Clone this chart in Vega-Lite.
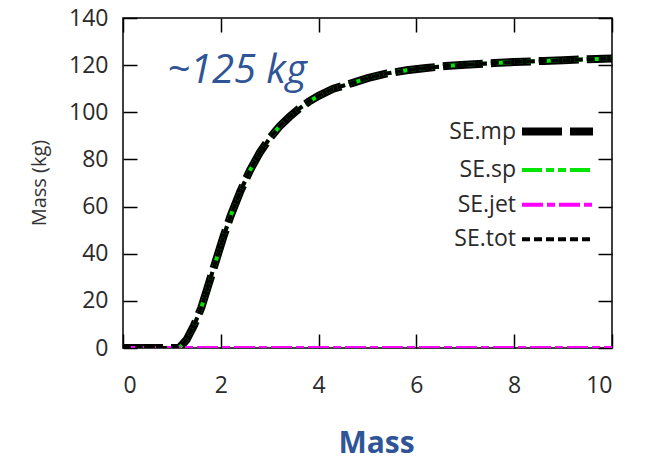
{
  "$schema": "https://vega.github.io/schema/vega-lite/v6.json",
  "width": 489,
  "height": 330,
  "autosize": {"type": "none"},
  "padding": {"left": 123, "top": 18, "right": 39, "bottom": 113},
  "background": "white",
  "config": {
    "font": "Open Sans",
    "view": {"stroke": "#000000", "strokeWidth": 1.5},
    "axis": {
      "grid": false,
      "domain": false,
      "tickColor": "#000000",
      "tickWidth": 1.5,
      "tickSize": -14,
      "labelFont": "Open Sans",
      "labelFontSize": 23,
      "labelColor": "#2a2a2a"
    },
    "legend": {
      "orient": "none",
      "legendX": 423,
      "legendY": 102,
      "padding": 0,
      "symbolType": "stroke",
      "symbolSize": 5041,
      "labelFont": "Open Sans",
      "labelFontSize": 23,
      "labelColor": "#2a2a2a",
      "labelAlign": "right",
      "labelOffset": -53,
      "labelLimit": 0,
      "rowPadding": 10.6
    }
  },
  "data": {
    "values": [
      {"series": "SE.mp", "t": 0, "m": 0}, {"series": "SE.mp", "t": 1.15, "m": 0}, {"series": "SE.mp", "t": 1.3, "m": 3.5},
      {"series": "SE.mp", "t": 1.45, "m": 9.5}, {"series": "SE.mp", "t": 1.6, "m": 17}, {"series": "SE.mp", "t": 1.75, "m": 27},
      {"series": "SE.mp", "t": 1.9, "m": 37}, {"series": "SE.mp", "t": 2.05, "m": 47}, {"series": "SE.mp", "t": 2.2, "m": 56},
      {"series": "SE.mp", "t": 2.4, "m": 66.5}, {"series": "SE.mp", "t": 2.6, "m": 75.5}, {"series": "SE.mp", "t": 2.8, "m": 83},
      {"series": "SE.mp", "t": 3.0, "m": 89}, {"series": "SE.mp", "t": 3.2, "m": 94}, {"series": "SE.mp", "t": 3.4, "m": 98},
      {"series": "SE.mp", "t": 3.6, "m": 101.5}, {"series": "SE.mp", "t": 3.8, "m": 104.5}, {"series": "SE.mp", "t": 4.0, "m": 107},
      {"series": "SE.mp", "t": 4.3, "m": 110}, {"series": "SE.mp", "t": 4.7, "m": 112.5}, {"series": "SE.mp", "t": 5.0, "m": 114.5},
      {"series": "SE.mp", "t": 5.4, "m": 116.5}, {"series": "SE.mp", "t": 5.8, "m": 117.8}, {"series": "SE.mp", "t": 6.2, "m": 118.8},
      {"series": "SE.mp", "t": 6.6, "m": 119.6}, {"series": "SE.mp", "t": 7.0, "m": 120.2}, {"series": "SE.mp", "t": 7.6, "m": 120.9},
      {"series": "SE.mp", "t": 8.0, "m": 121.3}, {"series": "SE.mp", "t": 8.6, "m": 121.8}, {"series": "SE.mp", "t": 9.0, "m": 122.1},
      {"series": "SE.mp", "t": 9.5, "m": 122.5}, {"series": "SE.mp", "t": 10, "m": 122.8},

      {"series": "SE.sp", "t": 0, "m": 0}, {"series": "SE.sp", "t": 1.15, "m": 0}, {"series": "SE.sp", "t": 1.3, "m": 3.5},
      {"series": "SE.sp", "t": 1.45, "m": 9.5}, {"series": "SE.sp", "t": 1.6, "m": 17}, {"series": "SE.sp", "t": 1.75, "m": 27},
      {"series": "SE.sp", "t": 1.9, "m": 37}, {"series": "SE.sp", "t": 2.05, "m": 47}, {"series": "SE.sp", "t": 2.2, "m": 56},
      {"series": "SE.sp", "t": 2.4, "m": 66.5}, {"series": "SE.sp", "t": 2.6, "m": 75.5}, {"series": "SE.sp", "t": 2.8, "m": 83},
      {"series": "SE.sp", "t": 3.0, "m": 89}, {"series": "SE.sp", "t": 3.2, "m": 94}, {"series": "SE.sp", "t": 3.4, "m": 98},
      {"series": "SE.sp", "t": 3.6, "m": 101.5}, {"series": "SE.sp", "t": 3.8, "m": 104.5}, {"series": "SE.sp", "t": 4.0, "m": 107},
      {"series": "SE.sp", "t": 4.3, "m": 110}, {"series": "SE.sp", "t": 4.7, "m": 112.5}, {"series": "SE.sp", "t": 5.0, "m": 114.5},
      {"series": "SE.sp", "t": 5.4, "m": 116.5}, {"series": "SE.sp", "t": 5.8, "m": 117.8}, {"series": "SE.sp", "t": 6.2, "m": 118.8},
      {"series": "SE.sp", "t": 6.6, "m": 119.6}, {"series": "SE.sp", "t": 7.0, "m": 120.2}, {"series": "SE.sp", "t": 7.6, "m": 120.9},
      {"series": "SE.sp", "t": 8.0, "m": 121.3}, {"series": "SE.sp", "t": 8.6, "m": 121.8}, {"series": "SE.sp", "t": 9.0, "m": 122.1},
      {"series": "SE.sp", "t": 9.5, "m": 122.5}, {"series": "SE.sp", "t": 10, "m": 122.8},

      {"series": "SE.jet", "t": 0, "m": 0}, {"series": "SE.jet", "t": 10, "m": 0},

      {"series": "SE.tot", "t": 0, "m": 0}, {"series": "SE.tot", "t": 1.15, "m": 0}, {"series": "SE.tot", "t": 1.3, "m": 3.5},
      {"series": "SE.tot", "t": 1.45, "m": 9.5}, {"series": "SE.tot", "t": 1.6, "m": 17}, {"series": "SE.tot", "t": 1.75, "m": 27},
      {"series": "SE.tot", "t": 1.9, "m": 37}, {"series": "SE.tot", "t": 2.05, "m": 47}, {"series": "SE.tot", "t": 2.2, "m": 56},
      {"series": "SE.tot", "t": 2.4, "m": 66.5}, {"series": "SE.tot", "t": 2.6, "m": 75.5}, {"series": "SE.tot", "t": 2.8, "m": 83},
      {"series": "SE.tot", "t": 3.0, "m": 89}, {"series": "SE.tot", "t": 3.2, "m": 94}, {"series": "SE.tot", "t": 3.4, "m": 98},
      {"series": "SE.tot", "t": 3.6, "m": 101.5}, {"series": "SE.tot", "t": 3.8, "m": 104.5}, {"series": "SE.tot", "t": 4.0, "m": 107},
      {"series": "SE.tot", "t": 4.3, "m": 110}, {"series": "SE.tot", "t": 4.7, "m": 112.5}, {"series": "SE.tot", "t": 5.0, "m": 114.5},
      {"series": "SE.tot", "t": 5.4, "m": 116.5}, {"series": "SE.tot", "t": 5.8, "m": 117.8}, {"series": "SE.tot", "t": 6.2, "m": 118.8},
      {"series": "SE.tot", "t": 6.6, "m": 119.6}, {"series": "SE.tot", "t": 7.0, "m": 120.2}, {"series": "SE.tot", "t": 7.6, "m": 120.9},
      {"series": "SE.tot", "t": 8.0, "m": 121.3}, {"series": "SE.tot", "t": 8.6, "m": 121.8}, {"series": "SE.tot", "t": 9.0, "m": 122.1},
      {"series": "SE.tot", "t": 9.5, "m": 122.5}, {"series": "SE.tot", "t": 10, "m": 122.8}
    ]
  },
  "resolve": {"axis": {"x": "independent", "y": "independent"}},
  "layer": [
    {
      "transform": [{"filter": "datum.series === 'SE.mp'"}],
      "mark": {"type": "line", "strokeWidth": 8, "clip": true},
      "encoding": {
        "x": {
          "field": "t", "type": "quantitative",
          "scale": {"domain": [0, 10], "nice": false},
          "axis": {
            "orient": "bottom", "values": [0, 2, 4, 6, 8, 10], "labelPadding": 40,
            "title": "Mass", "titleFont": "Open Sans", "titleFontSize": 30, "titleFontWeight": "bold",
            "titleColor": "#2F5597", "titleX": 253, "titleY": 104, "titleBaseline": "alphabetic", "titleAlign": "center"
          }
        },
        "y": {
          "field": "m", "type": "quantitative",
          "scale": {"domain": [0, 140], "nice": false},
          "axis": {
            "orient": "left", "values": [0, 20, 40, 60, 80, 100, 120, 140], "labelPadding": 29,
            "title": "Mass (kg)", "titleFont": "Open Sans", "titleFontSize": 20, "titleFontWeight": "normal",
            "titleColor": "#333333", "titleAngle": 270, "titleX": -84, "titleY": 164.5,
            "titleBaseline": "middle", "titleAlign": "center"
          }
        },
        "color": {
          "field": "series", "type": "nominal",
          "scale": {"domain": ["SE.mp", "SE.sp", "SE.jet", "SE.tot"], "range": ["#000000", "#00e600", "#ff00ff", "#000000"]},
          "legend": {
            "title": null,
            "encode": {"symbols": {"update": {"strokeWidth": {"signal": "datum.value === 'SE.mp' ? 8 : 4"}}}}
          }
        },
        "strokeDash": {
          "field": "series", "type": "nominal",
          "scale": {"domain": ["SE.mp", "SE.sp", "SE.jet", "SE.tot"], "range": [[40, 8], [20, 4, 8, 4, 8, 4], [21, 4, 8, 4], [8, 4]]},
          "legend": {"title": null}
        }
      }
    },
    {
      "transform": [{"filter": "datum.series === 'SE.sp'"}],
      "mark": {"type": "line", "strokeWidth": 4, "clip": true},
      "encoding": {
        "x": {"field": "t", "type": "quantitative", "scale": {"domain": [0, 10], "nice": false}, "axis": null},
        "y": {"field": "m", "type": "quantitative", "scale": {"domain": [0, 140], "nice": false}, "axis": null},
        "color": {"field": "series", "type": "nominal", "legend": {"title": null}},
        "strokeDash": {"field": "series", "type": "nominal", "legend": {"title": null}}
      }
    },
    {
      "transform": [{"filter": "datum.series === 'SE.jet'"}],
      "mark": {"type": "line", "strokeWidth": 4, "clip": true},
      "encoding": {
        "x": {
          "field": "t", "type": "quantitative", "scale": {"domain": [0, 10], "nice": false},
          "axis": {"orient": "top", "values": [0, 2, 4, 6, 8, 10], "labels": false, "title": null}
        },
        "y": {
          "field": "m", "type": "quantitative", "scale": {"domain": [0, 140], "nice": false},
          "axis": {"orient": "right", "values": [0, 20, 40, 60, 80, 100, 120, 140], "labels": false, "title": null}
        },
        "color": {"field": "series", "type": "nominal", "legend": {"title": null}},
        "strokeDash": {"field": "series", "type": "nominal", "legend": {"title": null}}
      }
    },
    {
      "transform": [{"filter": "datum.series === 'SE.tot'"}],
      "mark": {"type": "line", "strokeWidth": 4, "clip": true},
      "encoding": {
        "x": {"field": "t", "type": "quantitative", "scale": {"domain": [0, 10], "nice": false}, "axis": null},
        "y": {"field": "m", "type": "quantitative", "scale": {"domain": [0, 140], "nice": false}, "axis": null},
        "color": {"field": "series", "type": "nominal", "legend": {"title": null}},
        "strokeDash": {"field": "series", "type": "nominal", "legend": {"title": null}}
      }
    },
    {
      "data": {"values": [{"note": "~125 kg"}]},
      "mark": {
        "type": "text", "font": "Open Sans", "fontSize": 40, "fontStyle": "italic",
        "fontWeight": "normal", "fill": "#2F5597", "align": "left", "baseline": "alphabetic"
      },
      "encoding": {
        "text": {"field": "note"},
        "x": {"datum": 0.9, "type": "quantitative", "axis": null},
        "y": {"datum": 112.6, "type": "quantitative", "axis": null}
      }
    }
  ]
}
